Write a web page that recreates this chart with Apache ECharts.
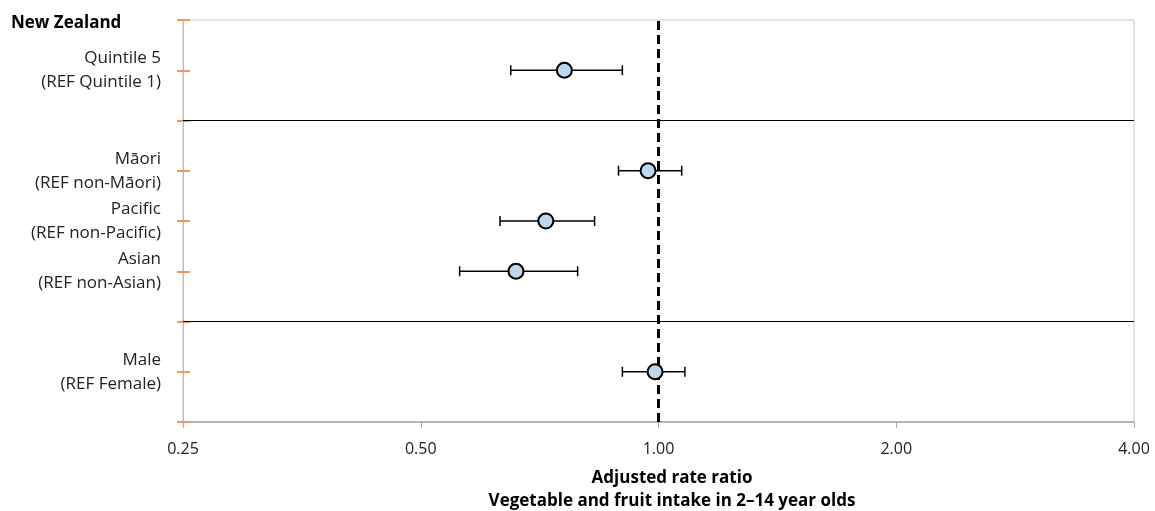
<!DOCTYPE html>
<html><head><meta charset="utf-8">
<script src="https://cdn.jsdelivr.net/npm/echarts@6/dist/echarts.min.js"></script>
<style>html,body{margin:0;padding:0;background:#fff}#c{width:1155px;height:511px}</style>
</head><body><div id="c"></div>
<script>
const categories = ['Quintile 5\n(REF Quintile 1)', 'Māori\n(REF non-Māori)', 'Pacific\n(REF non-Pacific)', 'Asian\n(REF non-Asian)', 'Male\n(REF Female)'];
const rowPositions = [7, 5, 4, 3, 1];
const estimates = [0.76, 0.97, 0.72, 0.66, 0.99];
const lowerCI = [0.65, 0.89, 0.63, 0.56, 0.90];
const upperCI = [0.90, 1.07, 0.83, 0.79, 1.08];
const separatorRows = [6, 2];
const xTicks = [0.25, 0.5, 1, 2, 4];
const referenceValue = 1;

const font = '"Open Sans", "Noto Sans", sans-serif';
const labelMap = {};
rowPositions.forEach((p, i) => { labelMap[p] = categories[i]; });

const errData = rowPositions.map((p, i) => [lowerCI[i], upperCI[i], p]);
const ptData = rowPositions.map((p, i) => [estimates[i], p]);

const chart = echarts.init(document.getElementById('c'));
const yBase = {
  type: 'value', min: 0, max: 8, interval: 1,
  axisLine: { show: true, lineStyle: { color: '#BFBFBF', width: 1 } },
  splitLine: { show: false },
};
chart.setOption({
  animation: false,
  textStyle: { fontFamily: font },
  grid: { left: 183, right: 21, top: 20, bottom: 89, show: true, borderColor: '#C8C8C8', borderWidth: 1 },
  graphic: [
    { type: 'text', x: 11, y: 23, style: { text: 'New Zealand', font: 'bold 17px ' + font, fill: '#000', textVerticalAlign: 'middle' } },
    { type: 'text', x: 672, y: 478, style: { text: 'Adjusted rate ratio', font: 'bold 17px ' + font, fill: '#000', textAlign: 'center', textVerticalAlign: 'middle' } },
    { type: 'text', x: 672, y: 501, style: { text: 'Vegetable and fruit intake in 2–14 year olds', font: 'bold 17px ' + font, fill: '#000', textAlign: 'center', textVerticalAlign: 'middle' } }
  ],
  xAxis: {
    type: 'log', logBase: 2, min: xTicks[0], max: xTicks[xTicks.length - 1],
    axisLine: { lineStyle: { color: '#A6A6A6', width: 1.5 } },
    axisTick: { show: true, length: 6, lineStyle: { color: '#A6A6A6' } },
    splitLine: { show: false },
    axisLabel: { color: '#222', fontSize: 16, margin: 19, formatter: v => Number(v).toFixed(2) }
  },
  yAxis: [
    Object.assign({}, yBase, {
      axisTick: { show: true, length: 6, lineStyle: { color: '#F0975E', width: 2 } },
      axisLabel: { show: true, color: '#222', fontSize: 17, margin: 22, lineHeight: 24, align: 'right',
        formatter: v => labelMap[v] || '' }
    }),
    Object.assign({}, yBase, {
      position: 'left', offset: 0,
      axisTick: { show: true, inside: true, length: 7, lineStyle: { color: '#F0975E', width: 2 } },
      axisLabel: { show: false }
    })
  ],
  series: [
    {
      type: 'line', yAxisIndex: 0, silent: true, symbol: 'none',
      data: [],
      markLine: {
        symbol: 'none', silent: true, label: { show: false },
        lineStyle: { color: '#000', width: 1.2, type: 'solid' },
        data: separatorRows.map(r => ({ yAxis: r }))
      }
    },
    {
      type: 'custom', yAxisIndex: 0, silent: true,
      data: errData,
      renderItem: function (params, api) {
        const y = api.value(2);
        const a = api.coord([api.value(0), y]);
        const b = api.coord([api.value(1), y]);
        const h = 5;
        const st = { stroke: '#000', lineWidth: 1.5 };
        return { type: 'group', children: [
          { type: 'line', shape: { x1: a[0], y1: a[1], x2: b[0], y2: b[1] }, style: st },
          { type: 'line', shape: { x1: a[0], y1: a[1] - h, x2: a[0], y2: a[1] + h }, style: st },
          { type: 'line', shape: { x1: b[0], y1: b[1] - h, x2: b[0], y2: b[1] + h }, style: st }
        ]};
      },
      z: 3
    },
    {
      type: 'line', yAxisIndex: 0, silent: true, symbol: 'none', data: [],
      markLine: {
        symbol: 'none', silent: true, label: { show: false },
        lineStyle: { color: '#000', width: 3, type: [9, 5] },
        data: [{ xAxis: referenceValue }]
      },
      z: 4
    },
    {
      type: 'scatter', yAxisIndex: 0, silent: true,
      data: ptData, symbol: 'circle', symbolSize: 15,
      itemStyle: { color: '#BDD7EE', borderColor: '#000', borderWidth: 2, opacity: 1 },
      z: 5
    }
  ]
});
</script></body></html>
